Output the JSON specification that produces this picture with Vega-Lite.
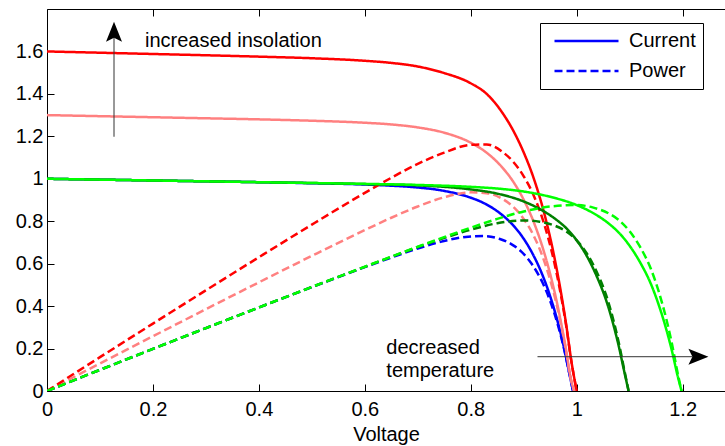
{
  "$schema": "https://vega.github.io/schema/vega-lite/v6.json",
  "width": 678,
  "height": 382,
  "autosize": {"type": "none"},
  "padding": {"left": 47, "top": 9, "right": 0, "bottom": 55},
  "background": "white",
  "config": {
    "view": {"stroke": null},
    "font": "Liberation Sans",
    "axis": {
      "domainColor": "black",
      "tickColor": "black",
      "labelColor": "black",
      "titleColor": "black",
      "labelFont": "Liberation Sans",
      "titleFont": "Liberation Sans",
      "labelFontSize": 20,
      "titleFontSize": 20,
      "titleFontWeight": "normal",
      "grid": false,
      "labelFlush": false,
      "labelOverlap": false,
      "domainWidth": 1,
      "tickWidth": 1
    }
  },
  "resolve": {"axis": {"x": "independent"}},
  "encoding": {
    "x": {"field": "v", "type": "quantitative", "scale": {"domain": [0, 1.28], "nice": false, "zero": false}, "axis": null},
    "y": {"field": "y", "type": "quantitative", "scale": {"domain": [0, 1.8], "nice": false, "zero": false},
      "axis": {"values": [0, 0.2, 0.4, 0.6, 0.8, 1, 1.2, 1.4, 1.6], "format": "~g", "title": null, "tickSize": -7, "labelPadding": 11}}
  },
  "layer": [
    {
      "data": {"values": [
        {"series":"blue","kind":"Current","v":0,"y":1.0},{"series":"blue","kind":"Current","v":0.1,"y":0.996},{"series":"blue","kind":"Current","v":0.2,"y":0.992},{"series":"blue","kind":"Current","v":0.3,"y":0.988},{"series":"blue","kind":"Current","v":0.4,"y":0.984},{"series":"blue","kind":"Current","v":0.5,"y":0.979},{"series":"blue","kind":"Current","v":0.6,"y":0.973},{"series":"blue","kind":"Current","v":0.645,"y":0.968},{"series":"blue","kind":"Current","v":0.695,"y":0.96},{"series":"blue","kind":"Current","v":0.745,"y":0.945},{"series":"blue","kind":"Current","v":0.795,"y":0.915},{"series":"blue","kind":"Current","v":0.825,"y":0.885},{"series":"blue","kind":"Current","v":0.855,"y":0.838},{"series":"blue","kind":"Current","v":0.875,"y":0.794},{"series":"blue","kind":"Current","v":0.895,"y":0.735},{"series":"blue","kind":"Current","v":0.915,"y":0.655},{"series":"blue","kind":"Current","v":0.935,"y":0.549},{"series":"blue","kind":"Current","v":0.95,"y":0.446},{"series":"blue","kind":"Current","v":0.965,"y":0.318},{"series":"blue","kind":"Current","v":0.975,"y":0.216},{"series":"blue","kind":"Current","v":0.985,"y":0.097},{"series":"blue","kind":"Current","v":0.993,"y":0},
        {"series":"blue","kind":"Power","v":0,"y":0},{"series":"blue","kind":"Power","v":0.1,"y":0.0996},{"series":"blue","kind":"Power","v":0.2,"y":0.1984},{"series":"blue","kind":"Power","v":0.3,"y":0.2964},{"series":"blue","kind":"Power","v":0.4,"y":0.3936},{"series":"blue","kind":"Power","v":0.5,"y":0.4895},{"series":"blue","kind":"Power","v":0.6,"y":0.5838},{"series":"blue","kind":"Power","v":0.645,"y":0.6244},{"series":"blue","kind":"Power","v":0.695,"y":0.6672},{"series":"blue","kind":"Power","v":0.745,"y":0.704},{"series":"blue","kind":"Power","v":0.795,"y":0.7274},{"series":"blue","kind":"Power","v":0.825,"y":0.7301},{"series":"blue","kind":"Power","v":0.855,"y":0.7165},{"series":"blue","kind":"Power","v":0.875,"y":0.6948},{"series":"blue","kind":"Power","v":0.895,"y":0.6578},{"series":"blue","kind":"Power","v":0.915,"y":0.5993},{"series":"blue","kind":"Power","v":0.935,"y":0.5133},{"series":"blue","kind":"Power","v":0.95,"y":0.4237},{"series":"blue","kind":"Power","v":0.965,"y":0.3069},{"series":"blue","kind":"Power","v":0.975,"y":0.2106},{"series":"blue","kind":"Power","v":0.985,"y":0.0955},{"series":"blue","kind":"Power","v":0.993,"y":0},
        {"series":"pink","kind":"Current","v":0,"y":1.3},{"series":"pink","kind":"Current","v":0.1,"y":1.295},{"series":"pink","kind":"Current","v":0.2,"y":1.29},{"series":"pink","kind":"Current","v":0.3,"y":1.285},{"series":"pink","kind":"Current","v":0.4,"y":1.28},{"series":"pink","kind":"Current","v":0.5,"y":1.2735},{"series":"pink","kind":"Current","v":0.6,"y":1.264},{"series":"pink","kind":"Current","v":0.65,"y":1.256},{"series":"pink","kind":"Current","v":0.7,"y":1.242},{"series":"pink","kind":"Current","v":0.75,"y":1.217},{"series":"pink","kind":"Current","v":0.8,"y":1.17},{"series":"pink","kind":"Current","v":0.83,"y":1.123},{"series":"pink","kind":"Current","v":0.86,"y":1.052},{"series":"pink","kind":"Current","v":0.88,"y":0.987},{"series":"pink","kind":"Current","v":0.9,"y":0.901},{"series":"pink","kind":"Current","v":0.92,"y":0.789},{"series":"pink","kind":"Current","v":0.94,"y":0.641},{"series":"pink","kind":"Current","v":0.955,"y":0.501},{"series":"pink","kind":"Current","v":0.97,"y":0.3285},{"series":"pink","kind":"Current","v":0.98,"y":0.193},{"series":"pink","kind":"Current","v":0.988,"y":0.069},{"series":"pink","kind":"Current","v":0.995,"y":0},
        {"series":"pink","kind":"Power","v":0,"y":0},{"series":"pink","kind":"Power","v":0.1,"y":0.1295},{"series":"pink","kind":"Power","v":0.2,"y":0.258},{"series":"pink","kind":"Power","v":0.3,"y":0.3855},{"series":"pink","kind":"Power","v":0.4,"y":0.512},{"series":"pink","kind":"Power","v":0.5,"y":0.6368},{"series":"pink","kind":"Power","v":0.6,"y":0.7584},{"series":"pink","kind":"Power","v":0.65,"y":0.8164},{"series":"pink","kind":"Power","v":0.7,"y":0.8694},{"series":"pink","kind":"Power","v":0.75,"y":0.9128},{"series":"pink","kind":"Power","v":0.8,"y":0.936},{"series":"pink","kind":"Power","v":0.83,"y":0.9321},{"series":"pink","kind":"Power","v":0.86,"y":0.9047},{"series":"pink","kind":"Power","v":0.88,"y":0.8686},{"series":"pink","kind":"Power","v":0.9,"y":0.8109},{"series":"pink","kind":"Power","v":0.92,"y":0.7259},{"series":"pink","kind":"Power","v":0.94,"y":0.6025},{"series":"pink","kind":"Power","v":0.955,"y":0.4785},{"series":"pink","kind":"Power","v":0.97,"y":0.3186},{"series":"pink","kind":"Power","v":0.98,"y":0.1891},{"series":"pink","kind":"Power","v":0.988,"y":0.0682},{"series":"pink","kind":"Power","v":0.995,"y":0},
        {"series":"red","kind":"Current","v":0,"y":1.6},{"series":"red","kind":"Current","v":0.1,"y":1.594},{"series":"red","kind":"Current","v":0.2,"y":1.588},{"series":"red","kind":"Current","v":0.3,"y":1.582},{"series":"red","kind":"Current","v":0.4,"y":1.5755},{"series":"red","kind":"Current","v":0.5,"y":1.568},{"series":"red","kind":"Current","v":0.6,"y":1.556},{"series":"red","kind":"Current","v":0.65,"y":1.546},{"series":"red","kind":"Current","v":0.7,"y":1.529},{"series":"red","kind":"Current","v":0.75,"y":1.498},{"series":"red","kind":"Current","v":0.8,"y":1.45},{"series":"red","kind":"Current","v":0.83,"y":1.4},{"series":"red","kind":"Current","v":0.86,"y":1.31},{"series":"red","kind":"Current","v":0.88,"y":1.228},{"series":"red","kind":"Current","v":0.9,"y":1.124},{"series":"red","kind":"Current","v":0.92,"y":0.994},{"series":"red","kind":"Current","v":0.94,"y":0.825},{"series":"red","kind":"Current","v":0.955,"y":0.665},{"series":"red","kind":"Current","v":0.97,"y":0.469},{"series":"red","kind":"Current","v":0.98,"y":0.316},{"series":"red","kind":"Current","v":0.99,"y":0.14},{"series":"red","kind":"Current","v":1.0,"y":0},
        {"series":"red","kind":"Power","v":0,"y":0},{"series":"red","kind":"Power","v":0.1,"y":0.1594},{"series":"red","kind":"Power","v":0.2,"y":0.3176},{"series":"red","kind":"Power","v":0.3,"y":0.4746},{"series":"red","kind":"Power","v":0.4,"y":0.6302},{"series":"red","kind":"Power","v":0.5,"y":0.784},{"series":"red","kind":"Power","v":0.6,"y":0.9336},{"series":"red","kind":"Power","v":0.65,"y":1.0049},{"series":"red","kind":"Power","v":0.7,"y":1.0703},{"series":"red","kind":"Power","v":0.75,"y":1.1235},{"series":"red","kind":"Power","v":0.8,"y":1.16},{"series":"red","kind":"Power","v":0.83,"y":1.162},{"series":"red","kind":"Power","v":0.86,"y":1.1266},{"series":"red","kind":"Power","v":0.88,"y":1.0806},{"series":"red","kind":"Power","v":0.9,"y":1.0116},{"series":"red","kind":"Power","v":0.92,"y":0.9145},{"series":"red","kind":"Power","v":0.94,"y":0.7755},{"series":"red","kind":"Power","v":0.955,"y":0.6351},{"series":"red","kind":"Power","v":0.97,"y":0.4549},{"series":"red","kind":"Power","v":0.98,"y":0.3097},{"series":"red","kind":"Power","v":0.99,"y":0.1386},{"series":"red","kind":"Power","v":1.0,"y":0},
        {"series":"darkgreen","kind":"Current","v":0,"y":1.0},{"series":"darkgreen","kind":"Current","v":0.1,"y":0.996},{"series":"darkgreen","kind":"Current","v":0.2,"y":0.992},{"series":"darkgreen","kind":"Current","v":0.3,"y":0.988},{"series":"darkgreen","kind":"Current","v":0.4,"y":0.984},{"series":"darkgreen","kind":"Current","v":0.5,"y":0.98},{"series":"darkgreen","kind":"Current","v":0.6,"y":0.975},{"series":"darkgreen","kind":"Current","v":0.7,"y":0.969},{"series":"darkgreen","kind":"Current","v":0.75,"y":0.962},{"series":"darkgreen","kind":"Current","v":0.8,"y":0.95},{"series":"darkgreen","kind":"Current","v":0.85,"y":0.93},{"series":"darkgreen","kind":"Current","v":0.9,"y":0.893},{"series":"darkgreen","kind":"Current","v":0.93,"y":0.858},{"series":"darkgreen","kind":"Current","v":0.96,"y":0.81},{"series":"darkgreen","kind":"Current","v":0.98,"y":0.768},{"series":"darkgreen","kind":"Current","v":1.0,"y":0.71},{"series":"darkgreen","kind":"Current","v":1.02,"y":0.632},{"series":"darkgreen","kind":"Current","v":1.04,"y":0.528},{"series":"darkgreen","kind":"Current","v":1.055,"y":0.432},{"series":"darkgreen","kind":"Current","v":1.07,"y":0.306},{"series":"darkgreen","kind":"Current","v":1.08,"y":0.205},{"series":"darkgreen","kind":"Current","v":1.09,"y":0.0895},{"series":"darkgreen","kind":"Current","v":1.098,"y":0},
        {"series":"darkgreen","kind":"Power","v":0,"y":0},{"series":"darkgreen","kind":"Power","v":0.1,"y":0.0996},{"series":"darkgreen","kind":"Power","v":0.2,"y":0.1984},{"series":"darkgreen","kind":"Power","v":0.3,"y":0.2964},{"series":"darkgreen","kind":"Power","v":0.4,"y":0.3936},{"series":"darkgreen","kind":"Power","v":0.5,"y":0.49},{"series":"darkgreen","kind":"Power","v":0.6,"y":0.585},{"series":"darkgreen","kind":"Power","v":0.7,"y":0.6783},{"series":"darkgreen","kind":"Power","v":0.75,"y":0.7215},{"series":"darkgreen","kind":"Power","v":0.8,"y":0.76},{"series":"darkgreen","kind":"Power","v":0.85,"y":0.7905},{"series":"darkgreen","kind":"Power","v":0.9,"y":0.8037},{"series":"darkgreen","kind":"Power","v":0.93,"y":0.7979},{"series":"darkgreen","kind":"Power","v":0.96,"y":0.7776},{"series":"darkgreen","kind":"Power","v":0.98,"y":0.7526},{"series":"darkgreen","kind":"Power","v":1.0,"y":0.71},{"series":"darkgreen","kind":"Power","v":1.02,"y":0.6446},{"series":"darkgreen","kind":"Power","v":1.04,"y":0.5491},{"series":"darkgreen","kind":"Power","v":1.055,"y":0.4558},{"series":"darkgreen","kind":"Power","v":1.07,"y":0.3274},{"series":"darkgreen","kind":"Power","v":1.08,"y":0.2214},{"series":"darkgreen","kind":"Power","v":1.09,"y":0.0976},{"series":"darkgreen","kind":"Power","v":1.098,"y":0},
        {"series":"green","kind":"Current","v":0,"y":1.0},{"series":"green","kind":"Current","v":0.1,"y":0.996},{"series":"green","kind":"Current","v":0.2,"y":0.992},{"series":"green","kind":"Current","v":0.3,"y":0.988},{"series":"green","kind":"Current","v":0.4,"y":0.984},{"series":"green","kind":"Current","v":0.5,"y":0.98},{"series":"green","kind":"Current","v":0.6,"y":0.976},{"series":"green","kind":"Current","v":0.7,"y":0.971},{"series":"green","kind":"Current","v":0.8,"y":0.962},{"series":"green","kind":"Current","v":0.85,"y":0.954},{"series":"green","kind":"Current","v":0.9,"y":0.94},{"series":"green","kind":"Current","v":0.95,"y":0.915},{"series":"green","kind":"Current","v":1.0,"y":0.876},{"series":"green","kind":"Current","v":1.03,"y":0.84},{"series":"green","kind":"Current","v":1.06,"y":0.79},{"series":"green","kind":"Current","v":1.08,"y":0.745},{"series":"green","kind":"Current","v":1.1,"y":0.684},{"series":"green","kind":"Current","v":1.12,"y":0.605},{"series":"green","kind":"Current","v":1.14,"y":0.505},{"series":"green","kind":"Current","v":1.155,"y":0.405},{"series":"green","kind":"Current","v":1.17,"y":0.283},{"series":"green","kind":"Current","v":1.18,"y":0.187},{"series":"green","kind":"Current","v":1.19,"y":0.077},{"series":"green","kind":"Current","v":1.198,"y":0},
        {"series":"green","kind":"Power","v":0,"y":0},{"series":"green","kind":"Power","v":0.1,"y":0.0996},{"series":"green","kind":"Power","v":0.2,"y":0.1984},{"series":"green","kind":"Power","v":0.3,"y":0.2964},{"series":"green","kind":"Power","v":0.4,"y":0.3936},{"series":"green","kind":"Power","v":0.5,"y":0.49},{"series":"green","kind":"Power","v":0.6,"y":0.5856},{"series":"green","kind":"Power","v":0.7,"y":0.6797},{"series":"green","kind":"Power","v":0.8,"y":0.7696},{"series":"green","kind":"Power","v":0.85,"y":0.8109},{"series":"green","kind":"Power","v":0.9,"y":0.846},{"series":"green","kind":"Power","v":0.95,"y":0.8693},{"series":"green","kind":"Power","v":1.0,"y":0.876},{"series":"green","kind":"Power","v":1.03,"y":0.8652},{"series":"green","kind":"Power","v":1.06,"y":0.8374},{"series":"green","kind":"Power","v":1.08,"y":0.8046},{"series":"green","kind":"Power","v":1.1,"y":0.7524},{"series":"green","kind":"Power","v":1.12,"y":0.6776},{"series":"green","kind":"Power","v":1.14,"y":0.5757},{"series":"green","kind":"Power","v":1.155,"y":0.4678},{"series":"green","kind":"Power","v":1.17,"y":0.3311},{"series":"green","kind":"Power","v":1.18,"y":0.2207},{"series":"green","kind":"Power","v":1.19,"y":0.0916},{"series":"green","kind":"Power","v":1.198,"y":0}
      ]},
      "mark": {"type": "line", "strokeWidth": 2.5, "interpolate": "monotone", "clip": true},
      "encoding": {
        "x": {"field": "v", "type": "quantitative",
          "axis": {"orient": "bottom", "values": [0, 0.2, 0.4, 0.6, 0.8, 1, 1.2], "format": "~g", "title": "Voltage", "tickSize": -7, "labelPadding": 15.5, "titlePadding": 5}},
        "color": {"field": "series", "type": "nominal", "legend": null,
          "scale": {"domain": ["blue", "pink", "red", "darkgreen", "green"], "range": ["#0000ff", "#ff8080", "#ff0000", "#008000", "#00ff00"]}},
        "strokeDash": {"field": "kind", "type": "nominal",
          "scale": {"domain": ["Current", "Power"], "range": [[1, 0], [8, 4]]},
          "legend": {"title": null, "orient": "none", "legendX": 493, "legendY": 14, "strokeColor": "black", "fillColor": "white", "padding": 7, "cornerRadius": 0,
            "symbolType": "stroke", "symbolSize": 4096, "symbolStrokeColor": "#0000ff", "symbolStrokeWidth": 2.5, "symbolOpacity": 1,
            "clipHeight": 22, "rowPadding": 8, "symbolOffset": 6, "labelOffset": 9,
            "labelFont": "Liberation Sans", "labelFontSize": 20, "labelColor": "black"}}
      }
    },
    {
      "data": {"values": [
        {"v": 0.1265, "y": 1.198, "v2": 0.1265, "y2": 1.665},
        {"v": 0.926, "y": 0.1616, "v2": 1.2185, "y2": 0.1616}
      ]},
      "mark": {"type": "rule", "color": "#333333", "strokeWidth": 1},
      "encoding": {
        "x": {"field": "v", "type": "quantitative",
          "axis": {"orient": "top", "values": [0, 0.2, 0.4, 0.6, 0.8, 1, 1.2], "labels": false, "title": null, "tickSize": -7}},
        "x2": {"field": "v2"},
        "y2": {"field": "y2"}
      }
    },
    {
      "data": {"values": [
        {"v": 0.1265, "y": 1.665, "a": 0},
        {"v": 1.2185, "y": 0.1616, "a": 90}
      ]},
      "mark": {"type": "point", "shape": "M0,-1L0.5,0.25L0,0L-0.5,0.25Z", "filled": true, "color": "black", "opacity": 1, "size": 1024, "strokeWidth": 0},
      "encoding": {
        "angle": {"field": "a", "type": "quantitative", "scale": null}
      }
    },
    {
      "data": {"values": [
        {"v": 0.185, "y": 1.6225, "label": "increased insolation"},
        {"v": 0.6407, "y": 0.1744, "label": "decreased"},
        {"v": 0.6407, "y": 0.0674, "label": "temperature"}
      ]},
      "mark": {"type": "text", "align": "left", "baseline": "alphabetic", "font": "Liberation Sans", "fontSize": 20, "color": "black"},
      "encoding": {
        "text": {"field": "label"}
      }
    }
  ]
}
